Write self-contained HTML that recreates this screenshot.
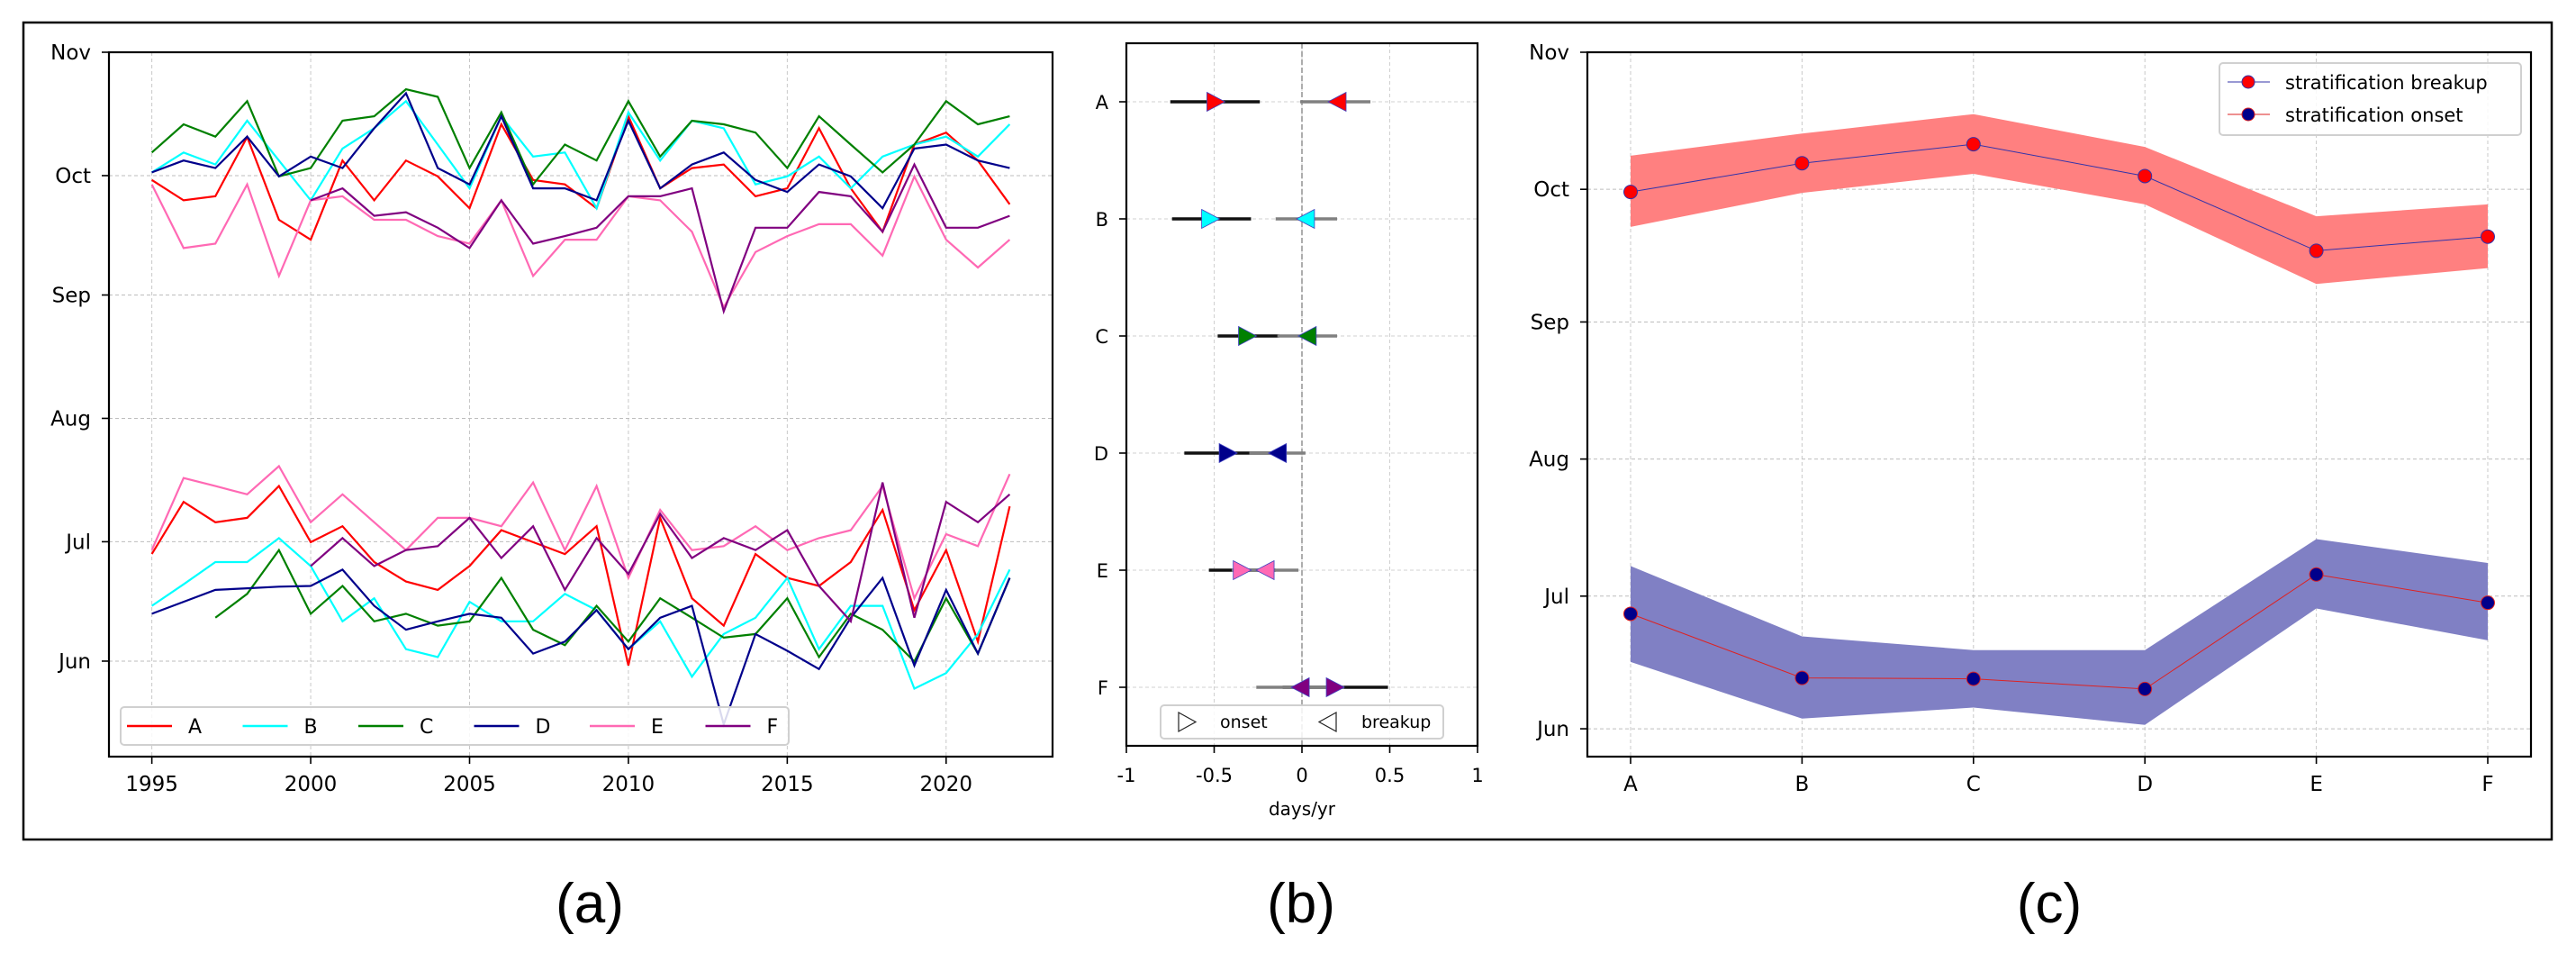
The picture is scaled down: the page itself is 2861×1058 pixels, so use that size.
<!DOCTYPE html>
<html><head><meta charset="utf-8"><style>
html,body{margin:0;padding:0;background:#fff;}
svg{display:block;font-family:"DejaVu Sans","Liberation Sans",sans-serif;}
</style></head><body>
<svg id="fig" width="2861" height="1058" viewBox="0 0 2861 1058" xmlns="http://www.w3.org/2000/svg">
<rect x="0" y="0" width="2861" height="1058" fill="#fff"/>
<rect x="26" y="25" width="2808" height="907" fill="none" stroke="#000" stroke-width="2.5"/>
<g id="pa"></g>
<g id="pb"></g>
<g id="pc"></g>
<text x="655" y="1024" font-size="62" text-anchor="middle" font-family="Liberation Sans, sans-serif">(a)</text>
<text x="1445" y="1024" font-size="62" text-anchor="middle" font-family="Liberation Sans, sans-serif">(b)</text>
<text x="2276" y="1024" font-size="62" text-anchor="middle" font-family="Liberation Sans, sans-serif">(c)</text>
</svg>
<script>
// ---------- data ----------
const years = [1995,1996,1997,1998,1999,2000,2001,2002,2003,2004,2005,2006,2007,2008,2009,2010,2011,2012,2013,2014,2015,2016,2017,2018,2019,2020,2021,2022];
const siteNames = ["A","B","C","D","E","F"];
const siteColors = ["#ff0000","#00ffff","#008000","#00008b","#ff69b4","#800080"];
const monthTickLabels = ["Jun","Jul","Aug","Sep","Oct","Nov"];
const monthTickDays = [152,182,213,244,274,305];
const yearTickLabels = [1995,2000,2005,2010,2015,2020];
const breakA = [272.9,267.8,268.8,283.7,262.9,257.9,277.8,267.8,277.8,273.8,265.8,286.9,272.9,271.8,265.8,288.9,270.8,275.9,276.8,268.8,270.8,285.9,270.8,259.9,281.8,284.8,277.8,266.8];
const breakB = [274.8,279.8,276.8,287.8,277.8,267.8,280.8,285.9,292.7,281.8,270.8,288.9,278.8,279.8,265.8,289.9,277.8,287.8,285.9,271.8,273.8,278.8,270.8,278.8,281.8,283.8,278.8,286.9];
const breakC = [279.8,286.9,283.8,292.7,273.8,275.9,287.8,288.9,295.7,293.8,275.9,289.9,271.8,281.8,277.8,292.7,278.8,287.8,286.9,284.8,275.9,288.9,281.8,274.8,281.8,292.7,286.9,288.9];
const breakD = [274.8,277.8,275.9,283.8,273.8,278.8,275.9,285.9,294.7,275.9,271.8,288.9,270.8,270.8,267.8,287.8,270.8,276.8,279.8,272.9,269.9,276.8,273.8,265.8,280.8,281.8,277.8,275.9];
const breakE = [271.8,255.8,256.9,271.8,248.8,267.8,268.8,262.9,262.9,258.8,256.9,267.8,248.8,257.9,257.9,268.8,267.8,259.9,240.9,254.8,258.8,261.8,261.8,253.9,273.8,257.9,250.9,257.9];
const breakF = [null,null,null,null,null,267.8,270.8,263.9,264.8,260.9,255.8,267.8,256.9,258.8,260.9,268.8,268.8,270.8,239.9,260.9,260.9,269.9,268.8,259.9,276.8,260.9,260.9,263.9];
const onsetA = [178.9,192.0,186.9,188.0,196.0,181.9,185.9,176.9,172.0,169.9,175.9,184.9,181.9,178.9,185.9,150.9,188.0,167.8,160.9,178.9,172.9,170.9,176.9,190.0,164.8,179.9,156.9,190.9];
const onsetB = [165.9,171.3,176.9,176.9,182.9,175.9,162.0,167.8,155.0,153.0,166.9,162.0,162.0,168.9,164.8,155.0,162.0,148.1,158.8,162.9,172.9,155.0,165.9,165.9,145.1,149.0,158.8,175.0];
const onsetC = [null,null,162.9,168.9,179.9,163.9,170.9,162.0,163.9,160.9,162.0,172.9,159.9,156.0,165.9,156.9,167.8,162.9,157.9,158.8,167.8,153.0,163.9,159.9,151.9,167.8,153.9,172.9];
const onsetD = [163.9,166.9,169.9,170.3,170.7,170.9,175.0,165.9,159.9,162.0,163.9,162.9,153.9,156.9,164.8,155.0,162.9,165.9,136.1,158.8,154.6,150.0,162.9,172.9,150.9,169.9,153.9,172.9];
const onsetE = [179.9,198.0,196.0,193.9,201.0,186.9,193.9,186.9,179.9,188.0,188.0,185.9,196.9,179.9,196.0,172.9,190.0,179.9,180.9,185.9,179.9,182.9,184.9,196.0,167.8,183.9,180.9,199.0];
const onsetF = [null,null,null,null,null,175.9,182.9,175.9,179.9,180.9,188.0,177.9,185.9,169.9,182.9,173.9,189.0,177.9,182.9,179.9,184.9,170.9,162.0,196.9,162.9,192.0,186.9,193.9];
// panel b trends (days/yr)
const onsetTrend = [-0.49,-0.52,-0.31,-0.42,-0.34,0.19];
const onsetLo = [-0.75,-0.74,-0.48,-0.67,-0.53,-0.11];
const onsetHi = [-0.24,-0.29,-0.13,-0.17,-0.15,0.49];
const breakTrend = [0.20,0.02,0.03,-0.14,-0.21,-0.01];
const breakLo = [-0.01,-0.15,-0.14,-0.30,-0.40,-0.26];
const breakHi = [0.39,0.20,0.20,0.02,-0.02,0.24];
const trendTickLabels = ["-1","-0.5","0","0.5","1"];
const trendTicks = [-1,-0.5,0,0.5,1];
// panel c means
const breakMean = [273.4,279.9,284.2,277.0,260.1,263.3];
const breakUpper = [281.6,286.6,291.0,283.6,267.9,270.6];
const breakLower = [265.5,273.2,277.5,270.6,252.6,256.2];
const onsetMean = [178.0,163.5,163.3,161.0,186.9,180.5];
const onsetUpper = [188.8,172.9,169.8,169.8,194.9,189.5];
const onsetLower = [167.1,154.3,156.8,152.9,179.2,172.0];

const NS="http://www.w3.org/2000/svg";
function mk(parent,tag,attrs,txt){const e=document.createElementNS(NS,tag);for(const k in attrs)e.setAttribute(k,attrs[k]);if(txt!==undefined)e.textContent=txt;parent.appendChild(e);return e;}

// ---------- panel a ----------
(function(){
const g=document.getElementById('pa');
const L=121,R=1169,T=58,B=840;
const x0=1993.65,x1=2023.35,y0=128.0,y1=305;
const X=v=>L+(v-x0)/(x1-x0)*(R-L);
const Y=v=>B-(v-y0)/(y1-y0)*(B-T);
yearTickLabels.forEach(yr=>{
  const l=mk(g,'line',{x1:X(yr),x2:X(yr),y1:T,y2:B,stroke:'#c8c8c8','stroke-width':1,'stroke-dasharray':'4,3'});
  
  mk(g,'line',{x1:X(yr),x2:X(yr),y1:B,y2:B+8,stroke:'#000','stroke-width':1.6});
  const tx=mk(g,'text',{x:X(yr),y:B+38,'font-size':23,'text-anchor':'middle'},yr);
  
});
monthTickDays.forEach((d,i)=>{
  const l=mk(g,'line',{x1:L,x2:R,y1:Y(d),y2:Y(d),stroke:'#bdbdbd','stroke-width':1,'stroke-dasharray':'4,3'});
  
  mk(g,'line',{x1:L-8,x2:L,y1:Y(d),y2:Y(d),stroke:'#000','stroke-width':1.6});
  const tx=mk(g,'text',{x:L-20,y:Y(d)+8,'font-size':23,'text-anchor':'end'},monthTickLabels[i]);
  
});
const allB=[breakA,breakB,breakC,breakD,breakE,breakF];
const allO=[onsetA,onsetB,onsetC,onsetD,onsetE,onsetF];
[allB,allO].forEach((set,si)=>{
  set.forEach((arr,k)=>{
    let pts=[];
    arr.forEach((v,i)=>{if(v!==null)pts.push(X(years[i]).toFixed(1)+','+Y(v).toFixed(1));});
    const p=mk(g,'polyline',{points:pts.join(' '),fill:'none',stroke:siteColors[k],'stroke-width':2.2,'stroke-linejoin':'miter'});
    
    
  });
});
mk(g,'rect',{x:L,y:T,width:R-L,height:B-T,fill:'none',stroke:'#000','stroke-width':2.2});
const lg=mk(g,'g',{});

mk(lg,'rect',{x:134,y:785,width:742,height:42,rx:4,fill:'#fff','fill-opacity':0.85,stroke:'#d0d0d0','stroke-width':2});
siteNames.forEach((n,k)=>{
  const bx=141+k*128.5;
  const e=mk(lg,'g',{});
  
  mk(e,'line',{x1:bx,x2:bx+50,y1:806,y2:806,stroke:siteColors[k],'stroke-width':2.4});
  mk(e,'text',{x:bx+68,y:814,'font-size':22},n);
});
})();

// ---------- panel b ----------
(function(){
const g=document.getElementById('pb');
const L=1251,R=1641,T=48,B=828;
const X=v=>L+(v+1)/2*(R-L);
const Y=i=>T+(i+0.5)*(B-T)/6;
trendTicks.forEach((t,i)=>{
  const l=mk(g,'line',{x1:X(t),x2:X(t),y1:T,y2:B,stroke:'#d0d0d0','stroke-width':1,'stroke-dasharray':'4,3'});
  
  mk(g,'line',{x1:X(t),x2:X(t),y1:B,y2:B+8,stroke:'#000','stroke-width':1.6});
  const tx=mk(g,'text',{x:X(t),y:B+40,'font-size':21,'text-anchor':'middle'},trendTickLabels[i]);
  
});
siteNames.forEach((n,i)=>{
  mk(g,'line',{x1:L,x2:R,y1:Y(i),y2:Y(i),stroke:'#d0d0d0','stroke-width':1,'stroke-dasharray':'4,3'});
  mk(g,'line',{x1:L-8,x2:L,y1:Y(i),y2:Y(i),stroke:'#000','stroke-width':1.6});
  const tx=mk(g,'text',{x:L-20,y:Y(i)+8,'font-size':21,'text-anchor':'end'},n);
  
});
const z=mk(g,'line',{x1:X(0),x2:X(0),y1:T,y2:B,stroke:'#999','stroke-width':1.6,'stroke-dasharray':'6,3'});

siteNames.forEach((n,i)=>{
  const y=Y(i);
  const eb=mk(g,'line',{x1:X(onsetLo[i]),x2:X(onsetHi[i]),y1:y,y2:y,stroke:'#111','stroke-width':3.5});
  
  const gb=mk(g,'line',{x1:X(breakLo[i]),x2:X(breakHi[i]),y1:y,y2:y,stroke:'#808080','stroke-width':3.5});
  
});
siteNames.forEach((n,i)=>{
  const y=Y(i),h=10.5,w=10;
  let xo=X(onsetTrend[i]);
  const m1=mk(g,'polygon',{points:`${xo-w},${y-h} ${xo+w},${y} ${xo-w},${y+h}`,fill:siteColors[i],stroke:'#4040c0','stroke-width':0.8});
  
  let xb=X(breakTrend[i]);
  const m2=mk(g,'polygon',{points:`${xb+w},${y-h} ${xb-w},${y} ${xb+w},${y+h}`,fill:siteColors[i],stroke:'#4040c0','stroke-width':0.8});
  
});
mk(g,'rect',{x:L,y:T,width:R-L,height:B-T,fill:'none',stroke:'#000','stroke-width':2.2});
const lg=mk(g,'g',{});

mk(lg,'rect',{x:1289,y:783,width:314,height:37,rx:4,fill:'#fff','fill-opacity':0.85,stroke:'#d0d0d0','stroke-width':2});
mk(lg,'polygon',{points:'1309,791 1328,801.5 1309,812',fill:'none',stroke:'#222','stroke-width':1.2});
mk(lg,'text',{x:1355,y:808,'font-size':19},'onset');
mk(lg,'polygon',{points:'1484,791 1465,801.5 1484,812',fill:'none',stroke:'#222','stroke-width':1.2});
mk(lg,'text',{x:1512,y:808,'font-size':19},'breakup');
const xt=mk(g,'text',{x:(L+R)/2,y:905,'font-size':20,'text-anchor':'middle'},'days/yr');

})();

// ---------- panel c ----------
(function(){
const g=document.getElementById('pc');
const L=1763,R=2811,T=58,B=840;
const y0=145.7,y1=305;
const X=i=>1811+i*(2763-1811)/5;
const Y=v=>B-(v-y0)/(y1-y0)*(B-T);
siteNames.forEach((n,i)=>{
  mk(g,'line',{x1:X(i),x2:X(i),y1:T,y2:B,stroke:'#c8c8c8','stroke-width':1,'stroke-dasharray':'4,3'});
  mk(g,'line',{x1:X(i),x2:X(i),y1:B,y2:B+8,stroke:'#000','stroke-width':1.6});
  const tx=mk(g,'text',{x:X(i),y:B+38,'font-size':23,'text-anchor':'middle'},n);
  
});
monthTickDays.forEach((d,i)=>{
  mk(g,'line',{x1:L,x2:R,y1:Y(d),y2:Y(d),stroke:'#bdbdbd','stroke-width':1,'stroke-dasharray':'4,3'});
  mk(g,'line',{x1:L-8,x2:L,y1:Y(d),y2:Y(d),stroke:'#000','stroke-width':1.6});
  const tx=mk(g,'text',{x:L-20,y:Y(d)+8,'font-size':23,'text-anchor':'end'},monthTickLabels[i]);
  
});
function band(up,lo,fill,name){
  let pts=up.map((v,i)=>X(i).toFixed(1)+','+Y(v).toFixed(1));
  for(let i=lo.length-1;i>=0;i--)pts.push(X(i).toFixed(1)+','+Y(lo[i]).toFixed(1));
  const p=mk(g,'polygon',{points:pts.join(' '),fill:fill});
  
}
band(breakUpper,breakLower,'#ff8080','breakup-band');
band(onsetUpper,onsetLower,'#8080c4','onset-band');
function series(arr,lineCol,mcol,name){
  const p=mk(g,'polyline',{points:arr.map((v,i)=>X(i).toFixed(1)+','+Y(v).toFixed(1)).join(' '),fill:'none',stroke:lineCol,'stroke-width':1});
  
  arr.forEach((v,i)=>{
    const c=mk(g,'circle',{cx:X(i),cy:Y(v),r:7.5,fill:mcol,stroke:lineCol,'stroke-width':1});
    
  });
}
series(breakMean,'#3333aa','#ff0000','breakup');
series(onsetMean,'#dd2222','#00008b','onset');
mk(g,'rect',{x:L,y:T,width:R-L,height:B-T,fill:'none',stroke:'#000','stroke-width':2.2});
const lg=mk(g,'g',{});

mk(lg,'rect',{x:2465,y:70,width:335,height:80,rx:4,fill:'#fff','fill-opacity':0.85,stroke:'#d0d0d0','stroke-width':2});
mk(lg,'line',{x1:2474,x2:2521,y1:91,y2:91,stroke:'#3333aa','stroke-width':1});
mk(lg,'circle',{cx:2497,cy:91,r:7,fill:'#ff0000',stroke:'#3333aa','stroke-width':1});
mk(lg,'text',{x:2538,y:99,'font-size':21},'stratification breakup');
mk(lg,'line',{x1:2474,x2:2521,y1:127,y2:127,stroke:'#dd2222','stroke-width':1});
mk(lg,'circle',{cx:2497,cy:127,r:7,fill:'#00008b',stroke:'#dd2222','stroke-width':1});
mk(lg,'text',{x:2538,y:135,'font-size':21},'stratification onset');
})();
</script>
</body></html>
